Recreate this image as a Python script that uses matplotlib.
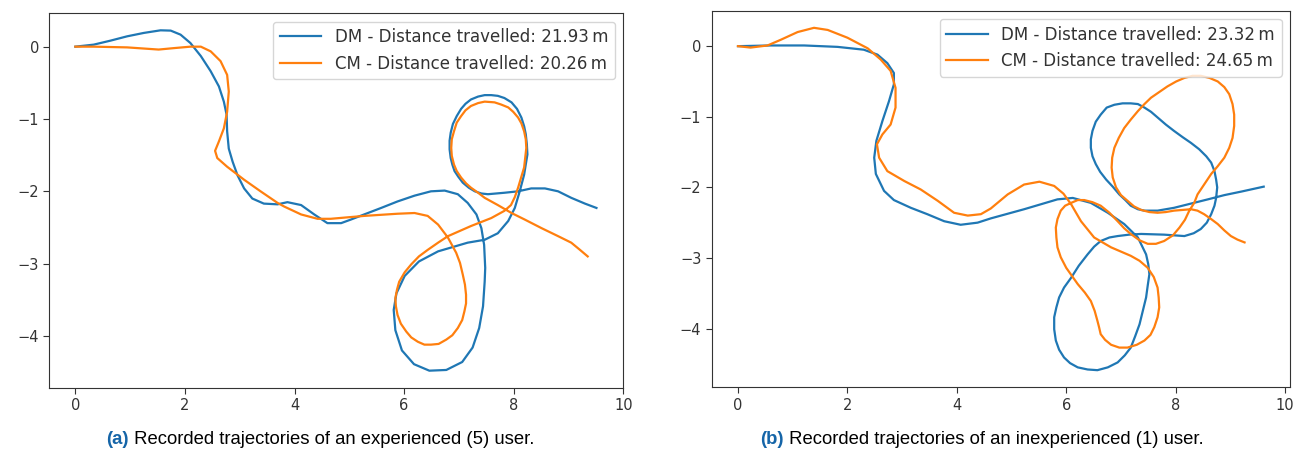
import matplotlib
matplotlib.use("Agg")
import matplotlib.pyplot as plt

# ---------------- data, (x, y) in metres ----------------
dm_a = [(0, 0), (0.335, 0.028), (0.64, 0.083), (0.945, 0.143), (1.25, 0.19), (1.555, 0.226), (1.74, 0.222),
        (1.92, 0.166), (2.10, 0.05), (2.29, -0.13), (2.47, -0.34), (2.62, -0.55), (2.71, -0.76), (2.76, -0.94),
        (2.77, -1.17), (2.80, -1.41), (2.87, -1.59), (2.96, -1.78), (3.08, -1.96), (3.23, -2.10), (3.44, -2.17),
        (3.69, -2.18), (3.87, -2.15), (4.12, -2.19), (4.36, -2.32), (4.60, -2.44), (4.85, -2.44), (5.03, -2.39),
        (5.27, -2.32), (5.58, -2.23), (5.88, -2.14), (6.19, -2.06), (6.49, -2.00), (6.74, -1.99), (6.98, -2.04),
        (7.16, -2.16), (7.32, -2.32), (7.41, -2.51), (7.46, -2.74), (7.48, -3.06), (7.47, -3.25), (7.44, -3.59),
        (7.37, -3.89), (7.25, -4.16), (7.06, -4.36), (6.77, -4.47), (6.46, -4.48), (6.18, -4.39), (5.96, -4.20),
        (5.84, -3.92), (5.81, -3.64), (5.86, -3.41), (6.01, -3.17), (6.27, -2.97), (6.62, -2.83), (6.98, -2.75),
        (7.16, -2.71), (7.47, -2.67), (7.71, -2.58), (7.90, -2.41), (8.02, -2.23), (8.11, -2.00), (8.19, -1.77),
        (8.25, -1.49), (8.24, -1.35), (8.22, -1.21), (8.19, -1.10), (8.14, -0.98), (8.06, -0.86), (7.96, -0.77),
        (7.83, -0.71), (7.71, -0.68), (7.59, -0.67), (7.47, -0.67), (7.35, -0.69), (7.22, -0.73), (7.12, -0.79),
        (7.04, -0.86), (6.96, -0.96), (6.89, -1.07), (6.85, -1.19), (6.83, -1.30), (6.83, -1.42), (6.85, -1.54),
        (6.88, -1.63), (6.92, -1.72), (6.99, -1.80), (7.07, -1.88), (7.18, -1.95), (7.29, -2.00), (7.41, -2.03),
        (7.53, -2.04), (7.83, -2.02), (8.08, -2.00), (8.32, -1.96), (8.57, -1.96), (8.81, -2.00), (9.05, -2.09),
        (9.30, -2.17), (9.51, -2.23)]

cm_a = [(0, 0), (0.335, 0.0), (0.945, -0.01), (1.52, -0.04), (1.80, -0.02), (2.10, 0.0), (2.29, 0.0),
        (2.47, -0.065), (2.65, -0.20), (2.77, -0.39), (2.80, -0.62), (2.77, -0.90), (2.71, -1.13), (2.62, -1.31),
        (2.55, -1.44), (2.59, -1.54), (2.77, -1.66), (3.08, -1.84), (3.38, -2.00), (3.69, -2.16), (3.81, -2.21),
        (4.12, -2.32), (4.42, -2.38), (4.66, -2.38), (5.27, -2.34), (5.88, -2.31), (6.19, -2.30), (6.43, -2.34),
        (6.62, -2.46), (6.80, -2.64), (6.95, -2.85), (7.02, -2.99), (7.07, -3.15), (7.11, -3.29), (7.13, -3.43),
        (7.13, -3.55), (7.10, -3.66), (7.06, -3.78), (6.98, -3.89), (6.88, -3.99), (6.77, -4.05), (6.63, -4.11),
        (6.49, -4.12), (6.37, -4.12), (6.25, -4.08), (6.13, -4.02), (6.04, -3.94), (5.94, -3.83), (5.88, -3.71),
        (5.85, -3.59), (5.84, -3.48), (5.87, -3.36), (5.91, -3.25), (6.01, -3.12), (6.13, -3.01), (6.27, -2.90),
        (6.43, -2.81), (6.62, -2.71), (6.80, -2.62), (7.22, -2.48), (7.59, -2.37), (7.83, -2.27), (7.95, -2.19),
        (8.02, -2.08), (8.08, -1.95), (8.19, -1.67), (8.23, -1.40), (8.22, -1.28), (8.19, -1.17), (8.14, -1.06),
        (8.08, -0.98), (7.99, -0.90), (7.90, -0.84), (7.77, -0.80), (7.65, -0.77), (7.47, -0.76), (7.35, -0.78),
        (7.22, -0.82), (7.12, -0.88), (7.04, -0.96), (6.96, -1.05), (6.91, -1.17), (6.87, -1.28), (6.86, -1.40),
        (6.87, -1.51), (6.91, -1.63), (6.96, -1.72), (7.04, -1.81), (7.13, -1.89), (7.22, -1.95), (7.35, -2.02),
        (7.47, -2.09), (7.71, -2.19), (7.96, -2.30), (8.20, -2.39), (8.51, -2.51), (8.81, -2.62), (9.05, -2.71),
        (9.21, -2.81), (9.35, -2.90)]

dm_b = [(0, 0), (0.60, 0.01), (1.21, 0.01), (1.82, -0.01), (2.30, -0.05), (2.55, -0.12), (2.73, -0.24),
        (2.85, -0.38), (2.85, -0.54), (2.76, -0.78), (2.64, -1.06), (2.53, -1.34), (2.49, -1.58), (2.52, -1.81),
        (2.67, -2.05), (2.85, -2.18), (3.16, -2.29), (3.46, -2.38), (3.77, -2.48), (4.07, -2.53), (4.38, -2.50),
        (4.62, -2.44), (5.23, -2.31), (5.84, -2.17), (6.12, -2.15), (6.45, -2.22), (6.76, -2.36), (7.06, -2.52),
        (7.31, -2.71), (7.46, -2.95), (7.50, -3.09), (7.52, -3.23), (7.49, -3.39), (7.46, -3.56), (7.40, -3.75),
        (7.34, -3.94), (7.26, -4.11), (7.18, -4.27), (7.07, -4.38), (6.94, -4.48), (6.76, -4.55), (6.57, -4.59),
        (6.39, -4.58), (6.21, -4.55), (6.07, -4.49), (5.96, -4.41), (5.87, -4.30), (5.81, -4.17), (5.78, -4.01),
        (5.78, -3.84), (5.82, -3.70), (5.87, -3.56), (5.96, -3.42), (6.09, -3.28), (6.23, -3.11), (6.39, -2.95),
        (6.51, -2.84), (6.63, -2.76), (6.79, -2.71), (6.94, -2.69), (7.15, -2.67), (7.37, -2.66), (7.79, -2.67),
        (8.16, -2.69), (8.33, -2.65), (8.46, -2.59), (8.57, -2.50), (8.65, -2.38), (8.71, -2.26), (8.74, -2.15),
        (8.76, -2.00), (8.74, -1.89), (8.71, -1.77), (8.65, -1.65), (8.56, -1.56), (8.43, -1.46), (8.28, -1.37),
        (8.13, -1.29), (7.97, -1.20), (7.82, -1.11), (7.67, -1.01), (7.55, -0.93), (7.43, -0.87), (7.31, -0.82),
        (7.18, -0.81), (7.03, -0.81), (6.88, -0.83), (6.74, -0.87), (6.63, -0.97), (6.54, -1.07), (6.48, -1.20),
        (6.45, -1.32), (6.45, -1.44), (6.48, -1.56), (6.54, -1.67), (6.62, -1.78), (6.73, -1.89), (6.85, -1.99),
        (6.97, -2.10), (7.08, -2.18), (7.18, -2.26), (7.31, -2.31), (7.43, -2.33), (7.67, -2.33), (7.97, -2.29),
        (8.28, -2.23), (8.59, -2.17), (8.89, -2.11), (9.20, -2.06), (9.61, -1.99)]

cm_b = [(0, 0), (0.23, -0.02), (0.54, 0.01), (0.78, 0.09), (1.09, 0.20), (1.39, 0.26), (1.64, 0.23),
        (2.00, 0.12), (2.37, -0.03), (2.61, -0.19), (2.79, -0.35), (2.88, -0.59), (2.88, -0.87), (2.79, -1.11),
        (2.64, -1.25), (2.54, -1.39), (2.58, -1.58), (2.73, -1.77), (3.04, -1.91), (3.34, -2.03), (3.65, -2.19),
        (3.95, -2.36), (4.20, -2.40), (4.44, -2.38), (4.62, -2.30), (4.93, -2.10), (5.23, -1.96), (5.51, -1.92),
        (5.78, -1.98), (5.95, -2.09), (6.09, -2.24), (6.27, -2.48), (6.51, -2.71), (6.82, -2.85), (7.18, -2.97),
        (7.34, -3.04), (7.49, -3.14), (7.60, -3.27), (7.67, -3.42), (7.69, -3.56), (7.70, -3.70), (7.67, -3.84),
        (7.61, -3.98), (7.54, -4.09), (7.43, -4.17), (7.29, -4.23), (7.12, -4.27), (6.97, -4.27), (6.82, -4.23),
        (6.71, -4.16), (6.63, -4.08), (6.60, -3.98), (6.57, -3.89), (6.52, -3.75), (6.45, -3.61), (6.34, -3.49),
        (6.21, -3.37), (6.10, -3.25), (6.00, -3.14), (5.90, -2.99), (5.84, -2.85), (5.82, -2.71), (5.81, -2.57),
        (5.84, -2.45), (5.90, -2.33), (5.98, -2.26), (6.09, -2.22), (6.21, -2.18), (6.33, -2.18), (6.48, -2.21),
        (6.63, -2.26), (6.79, -2.36), (6.94, -2.48), (7.06, -2.58), (7.18, -2.66), (7.34, -2.75), (7.49, -2.80),
        (7.64, -2.80), (7.79, -2.76), (7.95, -2.68), (8.07, -2.57), (8.17, -2.46), (8.25, -2.33), (8.34, -2.22),
        (8.40, -2.10), (8.52, -1.96), (8.65, -1.81), (8.77, -1.70), (8.89, -1.58), (8.98, -1.44), (9.04, -1.30),
        (9.07, -1.13), (9.07, -0.97), (9.04, -0.82), (8.98, -0.68), (8.89, -0.58), (8.77, -0.50), (8.62, -0.45),
        (8.46, -0.42), (8.31, -0.42), (8.16, -0.45), (8.01, -0.50), (7.85, -0.57), (7.70, -0.65), (7.55, -0.73),
        (7.43, -0.82), (7.31, -0.92), (7.18, -1.04), (7.06, -1.16), (6.96, -1.30), (6.88, -1.44), (6.84, -1.58),
        (6.83, -1.72), (6.85, -1.86), (6.91, -2.00), (7.00, -2.11), (7.12, -2.19), (7.24, -2.27), (7.37, -2.32),
        (7.52, -2.35), (7.67, -2.36), (7.82, -2.35), (7.97, -2.33), (8.13, -2.32), (8.28, -2.31), (8.40, -2.33),
        (8.52, -2.38), (8.65, -2.45), (8.77, -2.52), (8.89, -2.61), (9.01, -2.69), (9.13, -2.74), (9.26, -2.78)]

dist_a = ["21.93", "20.26"]
dist_b = ["23.32", "24.65"]
series_names = ["DM", "CM"]
x_ticks = [0, 2, 4, 6, 8, 10]
y_ticks = [0, -1, -2, -3, -4]
captions = [("(a)", "Recorded trajectories of an experienced (5) user."),
            ("(b)", "Recorded trajectories of an inexperienced (1) user.")]

# ---------------- figure ----------------
W, H = 1293, 453
fig = plt.figure(figsize=(W / 100, H / 100), dpi=100)
blue, orange = "#1f77b4", "#ff7f0e"
edge = "#333333"

ax_a = fig.add_axes([49.3 / W, 1 - 387.7 / H, (623.3 - 49.3) / W, (387.7 - 13.3) / H])
ax_b = fig.add_axes([711.7 / W, 1 - 387.3 / H, (1290 - 711.7) / W, (387.3 - 10.7) / H])

panels = [(ax_a, dm_a, cm_a, dist_a), (ax_b, dm_b, cm_b, dist_b)]
for ax, dm, cm, dist in panels:
    dx, dy = zip(*dm)
    cx, cy = zip(*cm)
    ax.plot(dx, dy, color=blue, lw=1.6, solid_joinstyle="round",
            label=f"{series_names[0]} - Distance travelled: {dist[0]}\u2009m")
    ax.plot(cx, cy, color=orange, lw=1.6, solid_joinstyle="round",
            label=f"{series_names[1]} - Distance travelled: {dist[1]}\u2009m")
    ax.set_xticks(x_ticks)
    ax.set_yticks(y_ticks)
    ax.set_yticklabels([f"{t}".replace("-", "\u2212") for t in y_ticks])
    ax.tick_params(labelsize=10.5, colors=edge, length=4)
    for s in ax.spines.values():
        s.set_color(edge)
    leg = ax.legend(loc="upper right", fontsize=12, handlelength=2.5,
                    framealpha=0.8, edgecolor="#cccccc")
    for t in leg.get_texts():
        t.set_color(edge)

# ---------------- captions ----------------
fig.canvas.draw()
r = fig.canvas.get_renderer()
cap_y = 1 - 440 / H
centers = [320 / W, 982 / W]
for (lab, txt), cxp in zip(captions, centers):
    t1 = fig.text(0, cap_y, lab, fontsize=13.3, family="Liberation Sans", weight="bold",
                  color="#1565a8", va="center", ha="left")
    t2 = fig.text(0, cap_y, " " + txt, fontsize=13.3, family="Liberation Sans",
                  color="black", va="center", ha="left")
    w1 = t1.get_window_extent(r).width / W
    w2 = t2.get_window_extent(r).width / W
    x0 = cxp - (w1 + w2) / 2
    t1.set_x(x0)
    t2.set_x(x0 + w1)

fig.savefig("out.png", dpi=100)
